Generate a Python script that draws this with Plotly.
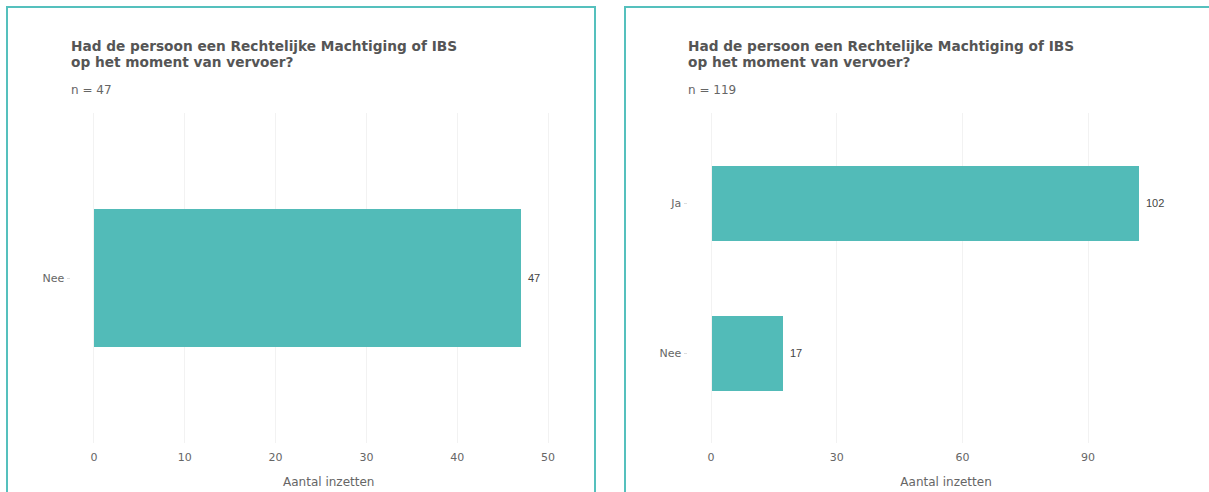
import plotly.graph_objects as go

# Data
title_lines = ["Had de persoon een Rechtelijke Machtiging of IBS", "op het moment van vervoer?"]
left_categories = ["Nee"]
left_values = [47]
left_n = 47
left_ticks = [0, 10, 20, 30, 40, 50]

right_categories = ["Ja", "Nee"]
right_values = [102, 17]
right_n = 119
right_ticks = [0, 30, 60, 90]

x_title = "Aantal inzetten"

W, H = 1209, 492
BAR = "#52BBB8"
BORDER = "#55C0BD"
TXT = "#555555"
GRID = "#F2F2F2"

def px_x(p):
    return p / W

def px_y(p):
    return 1 - p / H

def xrange(vals):
    top = max(vals) * 1.1
    return [-0.05 * top, top * 1.05]

fig = go.Figure()

fig.add_trace(go.Bar(
    x=left_values, y=left_categories, orientation="h",
    marker=dict(color=BAR, line=dict(width=0)), width=0.5,
    xaxis="x", yaxis="y", hoverinfo="skip", showlegend=False,
))
fig.add_trace(go.Bar(
    x=right_values, y=right_categories, orientation="h",
    marker=dict(color=BAR, line=dict(width=0)), width=0.5,
    xaxis="x2", yaxis="y2", hoverinfo="skip", showlegend=False,
))

ydom = [px_y(443), px_y(113)]

axis_common = dict(
    showgrid=True, gridcolor=GRID, gridwidth=1, zeroline=False,
    showline=False, ticks="", tickfont=dict(family="DejaVu Sans", size=11, color="#666666"),
    ticklabelstandoff=6, fixedrange=True,
)
yaxis_common = dict(
    showgrid=False, zeroline=False, showline=False,
    ticks="outside", ticklen=3, tickcolor="#DDDDDD",
    tickfont=dict(family="DejaVu Sans", size=11, color="#666666"),
    type="category", fixedrange=True,
)

fig.update_layout(
    width=W, height=H,
    margin=dict(l=0, r=0, t=0, b=0),
    paper_bgcolor="white", plot_bgcolor="white",
    font=dict(family="DejaVu Sans", color=TXT),
    bargap=0,
    xaxis=dict(domain=[px_x(70.5), px_x(587)], anchor="y", range=xrange(left_values),
               tickvals=left_ticks, **axis_common,
               title=dict(text=x_title, font=dict(size=12, color="#666666"), standoff=14)),
    yaxis=dict(domain=ydom, anchor="x", range=[-0.6, 0.6], **yaxis_common),
    xaxis2=dict(domain=[px_x(687.5), px_x(1204.6)], anchor="y2", range=xrange(right_values),
                tickvals=right_ticks, **axis_common,
                title=dict(text=x_title, font=dict(size=12, color="#666666"), standoff=14)),
    yaxis2=dict(domain=ydom, anchor="x2", range=[-0.6, 1.6],
                categoryorder="array", categoryarray=list(reversed(right_categories)),
                **yaxis_common),
)

# Panel borders
fig.add_shape(type="rect", xref="paper", yref="paper",
              x0=px_x(7), x1=px_x(595), y0=px_y(520), y1=px_y(7),
              line=dict(color=BORDER, width=2), layer="above")
fig.add_shape(type="rect", xref="paper", yref="paper",
              x0=px_x(625), x1=px_x(1240), y0=px_y(520), y1=px_y(7),
              line=dict(color=BORDER, width=2), layer="above")

# Titles and subtitles
for xpx, n in [(69, left_n), (686, right_n)]:
    for line, ypx in zip(title_lines, [46, 62]):
        fig.add_annotation(xref="paper", yref="paper", x=px_x(xpx), y=px_y(ypx),
                           xanchor="left", yanchor="middle", align="left", showarrow=False,
                           text="<b>" + line + "</b>",
                           font=dict(family="DejaVu Sans", size=13.7, color=TXT))
    fig.add_annotation(xref="paper", yref="paper", x=px_x(xpx), y=px_y(90),
                       xanchor="left", yanchor="middle", align="left", showarrow=False,
                       text=f"n = {n}",
                       font=dict(family="DejaVu Sans", size=12, color="#666666"))

# Value labels
for cat, v in zip(left_categories, left_values):
    fig.add_annotation(xref="x", yref="y", x=v, y=cat, xanchor="left", xshift=5,
                       showarrow=False, text=str(v),
                       font=dict(family="Liberation Sans", size=11, color="#444444"))
for cat, v in zip(right_categories, right_values):
    fig.add_annotation(xref="x2", yref="y2", x=v, y=cat, xanchor="left", xshift=6,
                       showarrow=False, text=str(v),
                       font=dict(family="Liberation Sans", size=11, color="#444444"))

fig.write_html("out.html", config={"displayModeBar": False},
               post_script="document.body.style.margin='0';")
